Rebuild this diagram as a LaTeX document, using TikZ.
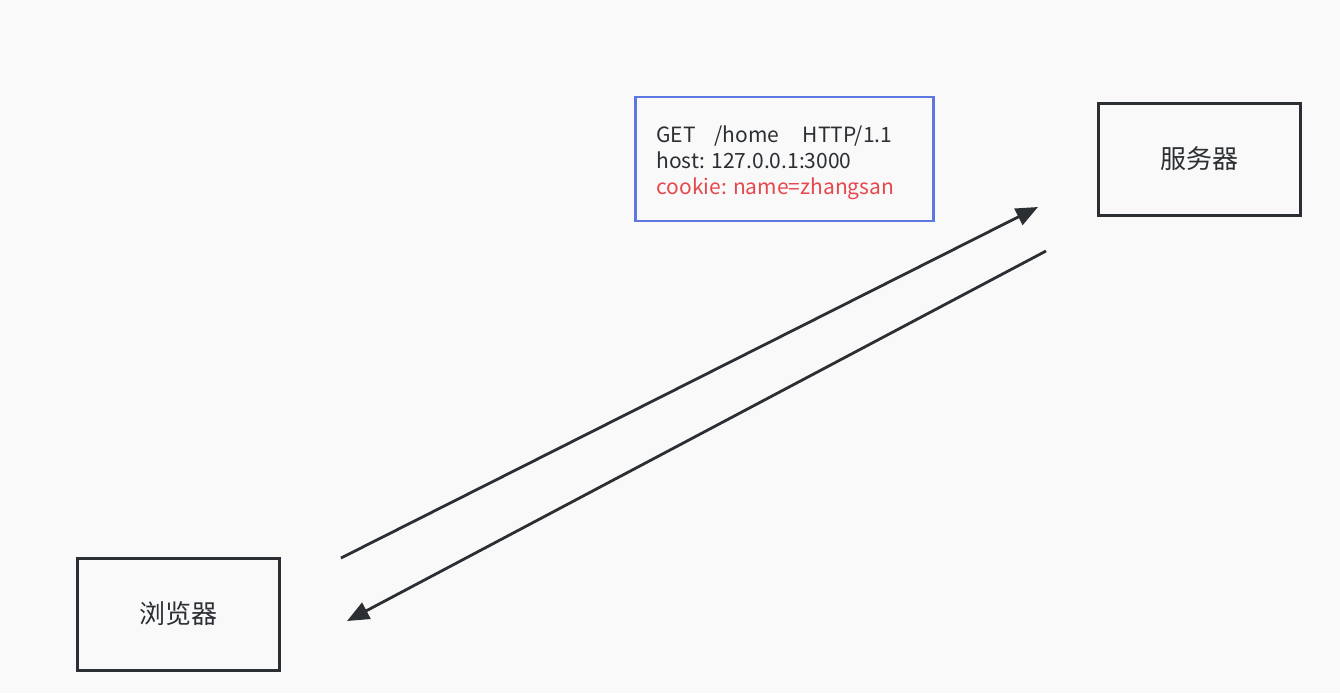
\documentclass[tikz,border=0pt]{standalone}
\usepackage{fontspec}
\setmainfont{Noto Sans CJK SC}
\usepackage{tikz}
\usetikzlibrary{arrows.meta,positioning}
\definecolor{bgcol}{HTML}{F9F9F9}
\definecolor{inkcol}{HTML}{2B2F33}
\definecolor{boxblue}{HTML}{5D78E0}
\definecolor{cookiered}{HTML}{E5484D}

\begin{document}
\begin{tikzpicture}[x=0.5pt,y=-0.5pt,
  endbox/.style={draw=inkcol,line width=1.5pt,minimum width=101pt,minimum height=56pt,inner sep=0pt,font=\fontsize{13}{15}\selectfont,text=inkcol},
  reqbox/.style={draw=boxblue,line width=1.2pt,minimum width=149pt,minimum height=62pt,inner sep=0pt},
  msg/.style={draw=inkcol,line width=1.4pt,-{Triangle[length=11pt,width=9pt]}}]
% background
\fill [bgcol] (0,0) rectangle (1340,693);
\useasboundingbox (0,0) rectangle (1340,693);
% endpoints
\node [endbox] (browser) at (178,614) {浏览器};
\node [endbox] (server) at (1199,159) {服务器};
% request message
\node [reqbox] (req) at (784.5,159) {};
\node [align=left,anchor=west,inner sep=0pt,font=\fontsize{10.5}{13}\selectfont,text=inkcol] (reqtext) at (656,163)
  {GET\ \ \ \ /home\ \ \ \ \ HTTP/1.1\\
   host: 127.0.0.1:3000\\
   \textcolor{cookiered}{cookie: name=zhangsan}};
% arrows
\coordinate (upfrom) at (341,558);
\coordinate (upto) at (1038,207);
\coordinate (downfrom) at (1046,251);
\coordinate (downto) at (347,621);
\draw [msg] (upfrom) -- (upto);
\draw [msg] (downfrom) -- (downto);
\end{tikzpicture}
\end{document}
